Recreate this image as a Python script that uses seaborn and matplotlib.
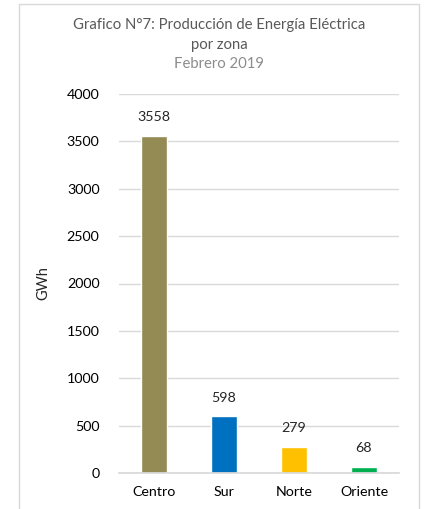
import matplotlib
matplotlib.use("Agg")
import matplotlib.pyplot as plt
import seaborn as sns
import pandas as pd
from matplotlib.lines import Line2D

zonas = ["Centro", "Sur", "Norte", "Oriente"]
gwh = [3558, 598, 279, 68]
colores = ["#948A54", "#0070C0", "#FFC000", "#00B050"]

sns.set_theme(style="white")
plt.rcParams['font.family'] = ['Lato', 'DejaVu Sans']

df = pd.DataFrame({"zona": zonas, "gwh": gwh})

fig = plt.figure(figsize=(4.24, 5.09), dpi=100)
ax = fig.add_axes([119 / 424, 1 - 473 / 509, 280 / 424, 379 / 509])

sns.barplot(data=df, x="zona", y="gwh", hue="zona", palette=colores,
            width=0.36, legend=False, ax=ax, saturation=1)

ax.set_ylim(0, 4000)
ax.set_yticks(range(0, 4001, 500))
ax.yaxis.grid(True, color="#d9d9d9", linewidth=1)
ax.set_axisbelow(True)
for s in ["top", "right", "left"]:
    ax.spines[s].set_visible(False)
ax.spines["bottom"].set_color("#d9d9d9")
ax.tick_params(axis="both", length=0, labelsize=10.3, colors="black")
ax.tick_params(axis="y", pad=14)
ax.tick_params(axis="x", pad=9)
ax.set_xlabel("")
ax.set_ylabel("GWh", fontsize=10.5, labelpad=12)

for i, v in enumerate(gwh):
    ax.annotate(str(v), (i, v), xytext=(0, 9), textcoords="offset points",
                ha="center", va="bottom", fontsize=10.3)

fig.text(219 / 424, 1 - 25 / 509, "Grafico N°7: Producción de Energía Eléctrica",
         ha="center", va="center", fontsize=10.7, color="#595959")
fig.text(219 / 424, 1 - 45 / 509, "por zona",
         ha="center", va="center", fontsize=10.7, color="#595959")
fig.text(219 / 424, 1 - 64 / 509, "Febrero 2019",
         ha="center", va="center", fontsize=10.7, color="#8c8c8c")

# chart frame
x0, x1, yt = 19 / 424, 419 / 424, 1 - 4 / 509
for xs, ys in [([x0, x0], [-0.01, yt]), ([x0, x1], [yt, yt]), ([x1, x1], [yt, -0.01])]:
    fig.add_artist(Line2D(xs, ys, transform=fig.transFigure, color="#d9d9d9", linewidth=1))

fig.savefig("out.png", dpi=100)
